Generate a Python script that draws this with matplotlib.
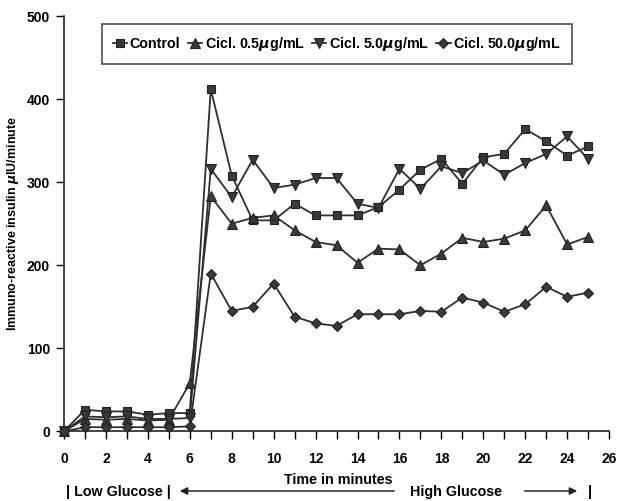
import matplotlib
matplotlib.use("Agg")
import matplotlib.pyplot as plt
from matplotlib.patches import FancyArrowPatch

plt.rcParams['font.family'] = ['Liberation Sans', 'DejaVu Sans']
plt.rcParams['font.weight'] = 'bold'

time = list(range(0, 26))
control = [0, 26, 24, 24, 20, 22, 22, 412, 308, 254, 254, 274, 260, 260, 260, 270,
           291, 315, 328, 298, 330, 334, 364, 349, 332, 343]
cicl_05 = [0, 15, 14, 15, 13, 14, 58, 283, 250, 257, 260, 242, 228, 224, 203, 220,
           219, 200, 214, 233, 228, 232, 242, 272, 225, 234]
cicl_5 = [0, 18, 17, 18, 15, 15, 16, 316, 282, 327, 293, 297, 305, 305, 274, 269,
          316, 292, 319, 311, 326, 309, 323, 334, 355, 328]
cicl_50 = [0, 5, 5, 5, 5, 5, 6, 190, 145, 150, 178, 138, 130, 127, 141, 141,
           141, 145, 144, 161, 155, 144, 153, 174, 162, 167]

labels = ['Control', 'Cicl. 0.5$\\mu$g/mL', 'Cicl. 5.0$\\mu$g/mL', 'Cicl. 50.0$\\mu$g/mL']
xticks = list(range(0, 27, 2))
yticks = [0, 100, 200, 300, 400, 500]

fig = plt.figure(figsize=(6.19, 5.01), dpi=100)
ax = fig.add_axes([0.1034, 0.139, 0.8806, 0.829])

lc = '#2f2f2f'
mc = '#3a3a3a'
series = [(control, 's', 5.5), (cicl_05, '^', 7.5), (cicl_5, 'v', 7.5), (cicl_50, 'D', 5.5)]
handles = []
for (vals, mk, ms), lab in zip(series, labels):
    h, = ax.plot(time, vals, color=lc, lw=1.3, marker=mk, markersize=ms,
                 markerfacecolor=mc, markeredgecolor='#222222', markeredgewidth=0.8,
                 label=lab, clip_on=False, zorder=3)
    handles.append(h)

ax.set_xlim(0, 26)
ax.set_ylim(0, 500)
ax.set_xticks(xticks)
ax.set_xticks(range(0, 27), minor=True)
ax.set_yticks(yticks)
ax.tick_params(axis='x', which='both', direction='out', length=6, width=1, labelsize=10, pad=9)
ax.tick_params(axis='y', direction='out', length=6, width=1, labelsize=10, pad=4)
for s in ['top', 'right']:
    ax.spines[s].set_visible(False)
for s in ['left', 'bottom']:
    ax.spines[s].set_linewidth(1.2)
    ax.spines[s].set_color('#222222')
for t in ax.get_xticklabels() + ax.get_yticklabels():
    t.set_fontweight('bold')

ax.set_ylabel('Immuno-reactive insulin $\\mu$IU/minute', fontsize=9, fontweight='bold', labelpad=4)

fs = 10.3
fig.text(338 / 619, 1 - 480 / 501, 'Time in minutes', ha='center', va='center', fontsize=fs, fontweight='bold')
fig.text(66 / 619, 1 - 492 / 501, '| Low Glucose |', ha='left', va='center', fontsize=fs, fontweight='bold')
fig.text(456 / 619, 1 - 492 / 501, 'High Glucose', ha='center', va='center', fontsize=fs, fontweight='bold')
fig.text(590 / 619, 1 - 492 / 501, '|', ha='center', va='center', fontsize=fs, fontweight='bold')
ya = 1 - 491 / 501
fig.add_artist(FancyArrowPatch((397 / 619, ya), (177 / 619, ya), transform=fig.transFigure,
                               arrowstyle='-|>', mutation_scale=11, lw=1.1, color='#222222'))
fig.add_artist(FancyArrowPatch((522 / 619, ya), (580 / 619, ya), transform=fig.transFigure,
                               arrowstyle='-|>', mutation_scale=11, lw=1.1, color='#222222'))

leg = ax.legend(handles=handles, loc='upper center', bbox_to_anchor=(337 / 619, 1 - 17 / 501),
                bbox_transform=fig.transFigure, ncol=4,
                frameon=True, fancybox=False, edgecolor='#222222', handlelength=1.0,
                handletextpad=0.2, columnspacing=0.5, borderpad=0.75,
                prop={'weight': 'bold', 'size': 10.3, 'family': ['Liberation Sans', 'DejaVu Sans']})
leg.get_frame().set_linewidth(1.2)

fig.savefig('out.png', dpi=100)
